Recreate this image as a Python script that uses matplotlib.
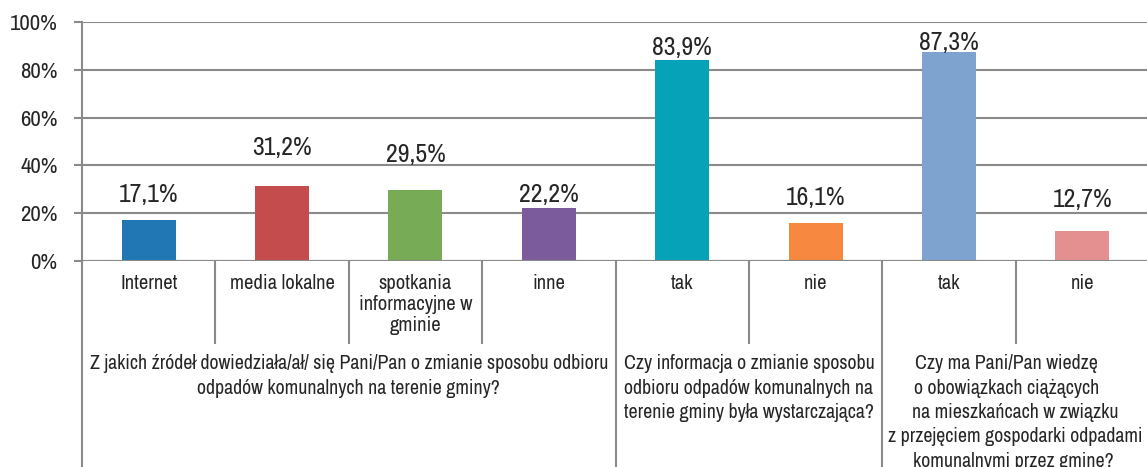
import matplotlib
matplotlib.use('Agg')
import matplotlib.pyplot as plt

# dane z wykresu
kategorie = ['Internet', 'media lokalne', 'spotkania\ninformacyjne w\ngminie', 'inne',
             'tak', 'nie', 'tak', 'nie']
wartosci = [17.1, 31.2, 29.5, 22.2, 83.9, 16.1, 87.3, 12.7]
pytania = [
    'Z jakich źródeł dowiedziała/ał/ się Pani/Pan o zmianie sposobu odbioru\n'
    'odpadów komunalnych na terenie gminy?',
    'Czy informacja o zmianie sposobu\n'
    'odbioru odpadów komunalnych na\n'
    'terenie gminy była wystarczająca?',
    'Czy ma Pani/Pan wiedzę    \n'
    'o obowiązkach ciążących    \n'
    'na mieszkańcach w związku\n'
    'z przejęciem gospodarki odpadami\n'
    'komunalnymi przez gminę? ',
]
grupy = [(0, 3), (4, 5), (6, 7)]  # zakresy kategorii dla pytań
y_ticks = [0, 20, 40, 60, 80, 100]

kolory = ['#2077B4', '#C44C4C', '#77AB56', '#7B5B9B',
          '#06A3B8', '#F6883F', '#7FA3CF', '#E49091']
odstep = [7.6, 13.2, 11.9, 2.5, 2.3, 7.3, 1.0, 9.9]  # przesuniecie etykiet nad słupkiem

plt.rcParams['font.family'] = ['Liberation Sans Narrow', 'Archivo Narrow', 'Liberation Sans', 'DejaVu Sans']
szary = '#8A8A8A'
tekst = '#262626'

W, H = 1147, 467
fig = plt.figure(figsize=(W / 100, H / 100), dpi=100)
ax = fig.add_axes([82 / W, (H - 261) / H, (1149 - 82) / W, (261 - 22) / H])

x = list(range(len(wartosci)))
ax.bar(x, wartosci, width=0.405, color=kolory, zorder=3)

for i, v in enumerate(wartosci):
    ax.text(i, v + odstep[i], f'{v:.1f}'.replace('.', ',') + '%', ha='center',
            va='baseline', fontsize=18.5, color=tekst, zorder=4)

ax.set_xlim(-0.5, len(wartosci) - 0.5)
ax.set_ylim(0, 100)
ax.set_yticks(y_ticks)
ax.set_yticklabels([f'{t}%' for t in y_ticks], fontsize=16.5, color=tekst)
ax.tick_params(axis='y', length=5.5, width=1.5, color=szary, pad=12)
ax.set_xticks([])
ax.yaxis.grid(True, color=szary, lw=1.5, zorder=0)
for s in ['top', 'right', 'bottom']:
    ax.spines[s].set_visible(False)
ax.spines['left'].set_color(szary)
ax.spines['left'].set_linewidth(1.5)
ax.axhline(0, color=szary, lw=1.5, zorder=4)

tr = ax.get_xaxis_transform()
dol_krotkie = (261 - 343) / 239
dol_dlugie = (261 - 470) / 239

# linie podziału kategorii i pytań
granice_pytan = [g[0] - 0.5 for g in grupy] + [grupy[-1][1] + 0.5]
for b in range(len(wartosci) + 1):
    xb = b - 0.5
    dol = dol_dlugie if xb in granice_pytan else dol_krotkie
    ax.plot([xb, xb], [0, dol], transform=tr, color=szary, lw=1.5, clip_on=False)

for i, k in enumerate(kategorie):
    ax.text(i, -0.055, k, transform=tr, ha='center', va='top', fontsize=14.8,
            color=tekst, linespacing=1.13)

for (a, b), p in zip(grupy, pytania):
    ax.text((a + b) / 2, -0.39, p, transform=tr, ha='center', va='top',
            fontsize=14.3, color=tekst, linespacing=1.36, multialignment='center')

fig.savefig('out.png', dpi=100)
